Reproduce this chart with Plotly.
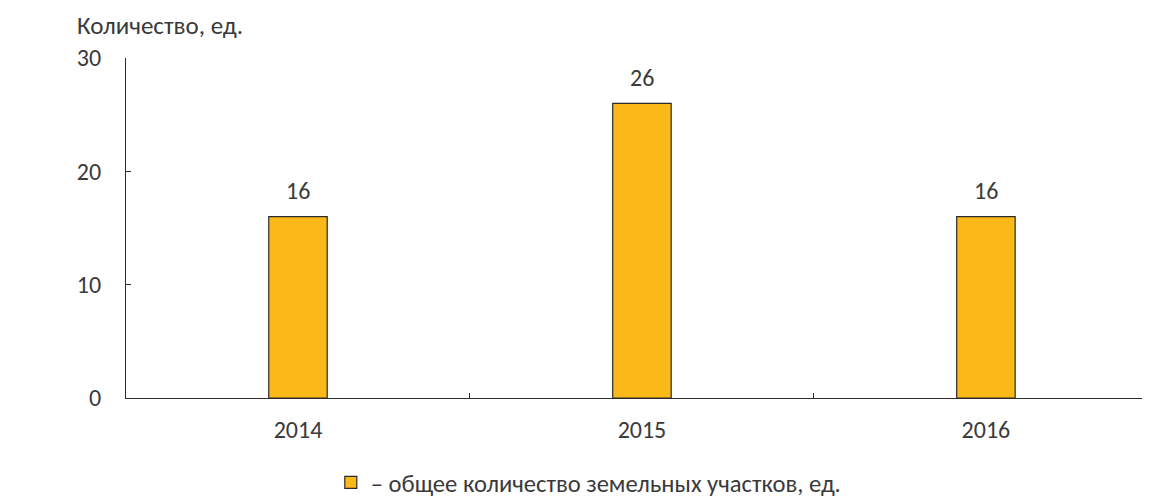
import plotly.graph_objects as go

years = ['2014', '2015', '2016']
counts = [16, 26, 16]
series_name = '– общее количество земельных участков, ед.'
y_title = 'Количество, ед.'
y_ticks = [0, 10, 20, 30]

font_family = 'Carlito, Lato, "Open Sans", sans-serif'
text_color = '#3a3a3a'
axis_color = '#2b2b2b'

fig = go.Figure()
fig.add_trace(go.Bar(
    x=years, y=counts, name=series_name, width=0.17,
    marker=dict(color='#FBB819', line=dict(color=axis_color, width=1.2)),
    showlegend=True,
))

# value labels above bars (category index for x)
for i, v in enumerate(counts):
    fig.add_annotation(x=i, y=v, text=str(v), showarrow=False,
                       yanchor='middle', yshift=26,
                       font=dict(size=24, color=text_color, family=font_family))

fig.add_annotation(xref='paper', yref='paper', x=-0.05, y=1.0, yshift=33,
                   xanchor='left', yanchor='middle', text=y_title, showarrow=False,
                   font=dict(size=25, color=text_color, family=font_family))

# page body adds an 8px offset, so the figure is sized to the remaining area
fig.update_layout(
    width=1142, height=491,
    margin=dict(l=118, r=0, t=50, b=101),
    paper_bgcolor='white', plot_bgcolor='white',
    font=dict(family=font_family, size=24, color=text_color),
    xaxis=dict(type='category', range=[-0.5, 2.477], showline=True, linecolor=axis_color,
               linewidth=1.2, ticks='inside', tickson='boundaries', ticklen=5,
               tickcolor=axis_color, showgrid=False, zeroline=False,
               ticklabelstandoff=10, automargin=False),
    yaxis=dict(range=[0, 30], tickvals=y_ticks, showline=True, linecolor=axis_color,
               linewidth=1.2, ticks='inside', ticklen=5, tickcolor=axis_color,
               showgrid=False, zeroline=False, ticklabelstandoff=19, automargin=False),
    legend=dict(orientation='h', x=0.2, xanchor='left', yref='container', y=0.034,
                yanchor='middle', font=dict(size=24.6, color=text_color, family=font_family),
                itemwidth=30),
)

fig.write_html('out.html')
